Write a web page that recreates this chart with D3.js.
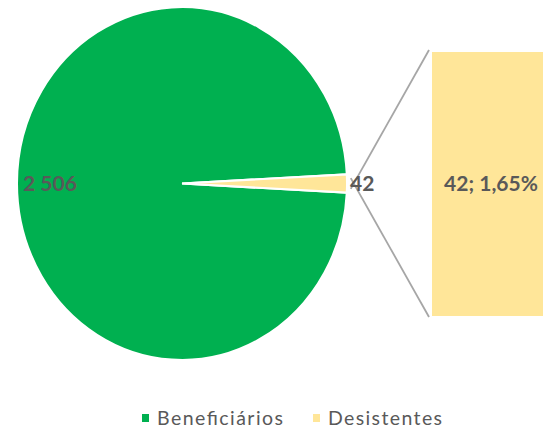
<!DOCTYPE html>
<html><head><meta charset="utf-8">
<script src="https://cdn.jsdelivr.net/npm/d3@7"></script>
<style>html,body{margin:0;padding:0;background:#fff;overflow:hidden}</style>
</head><body>
<svg id="c" width="543" height="430"></svg>
<script>
const categories = ["Beneficiários", "Desistentes"];
const values = [2506, 42];
const colors = ["#00B050", "#FFE699"];
const pieLabels = ["2 506", "42"];
const barLabel = "42; 1,65%";

const svg = d3.select("#c");
const cx = 182, cy = 183.5, rx = 165, ry = 176.5;
const total = d3.sum(values);
const a = values[1] / total * 2 * Math.PI;

const pie = d3.pie().sort(null).value(d => d)
  .startAngle(Math.PI / 2 + a / 2).endAngle(Math.PI / 2 + a / 2 + 2 * Math.PI);
const arcs = pie(values);
const arc = d3.arc().innerRadius(0).outerRadius(rx);

const g = svg.append("g").attr("transform", `translate(${cx},${cy}) scale(1,${ry / rx})`);
g.selectAll("path").data(arcs).join("path")
  .attr("d", arc)
  .attr("fill", (d, i) => colors[i])
  .attr("stroke", "#fff").attr("stroke-width", 2);

// bar of pie
const y = d3.scaleLinear().domain([0, values[1]]).range([316, 52]);
const x = d3.scaleBand().domain([categories[1]]).range([432, 552]);
svg.append("rect")
  .attr("x", x(categories[1])).attr("width", x.bandwidth())
  .attr("y", y(values[1])).attr("height", y(0) - y(values[1]))
  .attr("fill", colors[1]);

// connector lines
const d1 = arcs[1];
const p1 = [cx + (rx + 4) * Math.sin(d1.startAngle), cy - (ry + 4) * Math.cos(d1.startAngle) + 4];
const p2 = [cx + (rx + 4) * Math.sin(d1.endAngle), cy - (ry + 4) * Math.cos(d1.endAngle) - 4];
svg.append("line").attr("x1", p2[0]).attr("y1", p2[1]).attr("x2", 429).attr("y2", y(values[1]) - 2)
  .attr("stroke", "#A6A6A6").attr("stroke-width", 1.8);
svg.append("line").attr("x1", p1[0]).attr("y1", p1[1]).attr("x2", 429).attr("y2", y(0) + 1)
  .attr("stroke", "#A6A6A6").attr("stroke-width", 1.8);

const font = "Lato, 'Open Sans', sans-serif";
// labels
svg.append("text").attr("x", 23).attr("y", cy).attr("dy", "0.35em")
  .attr("font-family", font).attr("font-weight", "bold").attr("font-size", 21)
  .attr("fill", "#595959").text(pieLabels[0]);
svg.append("text").attr("x", 350).attr("y", cy).attr("dy", "0.35em")
  .attr("font-family", font).attr("font-weight", "bold").attr("font-size", 21)
  .attr("fill", "#595959").text(pieLabels[1]);
svg.append("text").attr("x", x(categories[1]) + x.bandwidth() / 2 - 1).attr("y", cy).attr("dy", "0.35em")
  .attr("text-anchor", "middle")
  .attr("font-family", font).attr("font-weight", "bold").attr("font-size", 21)
  .attr("fill", "#595959").text(barLabel);

// legend
const legX = [142, 313];
const legW = [126, 114];
const leg = svg.append("g");
categories.forEach((c, i) => {
  leg.append("rect").attr("x", legX[i]).attr("y", 414).attr("width", 7).attr("height", 8).attr("fill", colors[i]);
  leg.append("text").attr("x", legX[i] + 15).attr("y", 418.5).attr("dy", "0.35em")
    .attr("font-family", font).attr("font-size", 19.5).attr("fill", "#595959")
    .attr("textLength", legW[i]).attr("lengthAdjust", "spacing").text(c);
});
</script>
</body></html>
